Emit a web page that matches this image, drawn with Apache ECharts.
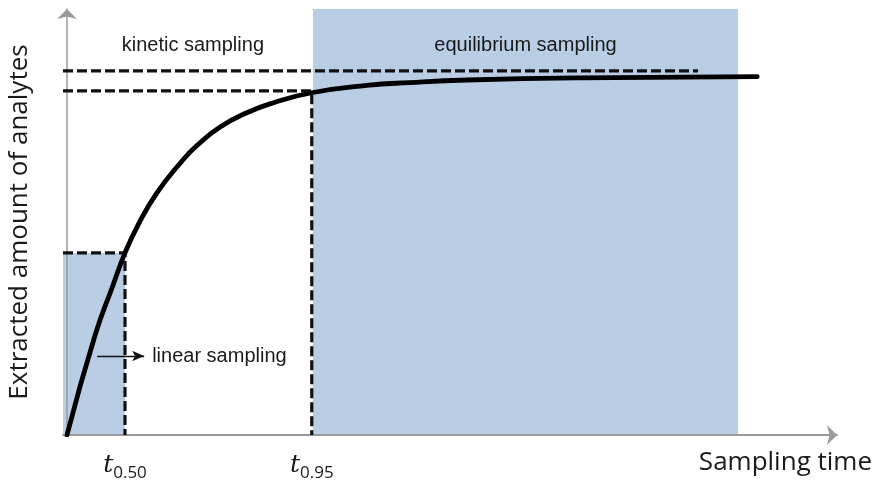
<!DOCTYPE html>
<html>
<head>
<meta charset="utf-8">
<script src="https://cdn.jsdelivr.net/npm/echarts@6/dist/echarts.min.js"></script>
<style>
html,body{margin:0;padding:0;background:#fff;}
#chart{width:879px;height:487px;}
</style>
</head>
<body>
<div id="chart"></div>
<script>
// Sampling time in units of t0.50, extracted amount relative to equilibrium
var curveTime   = [0, 0.48, 0.79, 1.0, 1.22, 1.55, 1.98, 2.24, 2.64, 3.10, 3.55, 4.22, 5.17, 5.91, 6.90, 8.84, 11.9];
var curveAmount = [0, 0.272, 0.41, 0.5, 0.575, 0.665, 0.752, 0.795, 0.846, 0.885, 0.912, 0.94, 0.96, 0.968, 0.975, 0.981, 0.984];

var halfLineTime   = [-0.069, 1.0, 1.0];
var halfLineAmount = [0.5, 0.5, 0];
var t95LineTime    = [-0.069, 4.22, 4.22];
var t95LineAmount  = [0.945, 0.945, 0];
var eqLineTime     = [-0.069, 10.88];
var eqLineAmount   = [1.0, 1.0];

var linearRegion      = [[-0.069, 0], [1.0, 0.5]];
var equilibriumRegion = [[4.24, 0], [11.57, 1.17]];

var tickValues = [1.0, 4.22];
var tickLabels = ['0.50', '0.95'];

var xMin = -0.069, xMax = 13.276, yMin = 0, yMax = 1.17;

function pairs(xs, ys) { return xs.map(function (x, i) { return [x, ys[i]]; }); }

var textColor = '#1a1a1a';
var dashStyle = { color: '#111', width: 3.2, type: [10, 4] };

var chart = echarts.init(document.getElementById('chart'), null, { renderer: 'canvas' });
chart.setOption({
  animation: false,
  backgroundColor: '#ffffff',
  grid: { left: 63, right: 42, top: 9, bottom: 52, containLabel: false, outerBoundsMode: 'none' },
  xAxis: {
    type: 'value', min: xMin, max: xMax, z: 2,
    name: 'Sampling time', nameLocation: 'end', nameGap: 35,
    nameTextStyle: { fontFamily: 'Open Sans', fontSize: 26, color: textColor, align: 'right', verticalAlign: 'top', padding: [15, 0, 0, 0] },
    axisLine: { show: true, onZero: true, symbol: ['none', 'arrow'], symbolSize: [15, 10], lineStyle: { color: '#9a9a9a', width: 2 } },
    axisTick: { show: false },
    splitLine: { show: false },
    axisLabel: {
      show: true, customValues: tickValues, margin: 18,
      formatter: function (v) {
        var best = 0;
        for (var i = 1; i < tickValues.length; i++) if (Math.abs(tickValues[i] - v) < Math.abs(tickValues[best] - v)) best = i;
        return '{t|t}{s|' + tickLabels[best] + '}';
      },
      rich: {
        t: { fontFamily: 'DejaVu Serif', fontStyle: 'italic', fontSize: 25, color: textColor, verticalAlign: 'top' },
        s: { fontFamily: 'Open Sans', fontSize: 17, color: textColor, verticalAlign: 'top', padding: [12, 0, 0, 0] }
      }
    }
  },
  yAxis: {
    type: 'value', min: yMin, max: yMax, z: 2,
    name: 'Extracted amount of analytes', nameLocation: 'middle', nameRotate: 90, nameGap: 30,
    nameTextStyle: { fontFamily: 'Open Sans', fontSize: 26, color: textColor },
    axisLine: { show: true, onZero: true, symbol: ['none', 'arrow'], symbolSize: [15, 10], lineStyle: { color: '#9a9a9a', width: 1.5 } },
    axisTick: { show: false },
    splitLine: { show: false },
    axisLabel: { show: false }
  },
  series: [
    {
      type: 'line', name: 'regions', data: [], z: 1, silent: true, clip: false,
      markArea: {
        silent: true,
        itemStyle: { color: '#b9cde5', opacity: 1 },
        data: [
          [{ coord: linearRegion[0] }, { coord: linearRegion[1] }],
          [{ coord: equilibriumRegion[0], name: 'equilibrium sampling',
             label: { show: true, position: 'insideTop', distance: 26, fontFamily: 'Liberation Sans', fontSize: 20, color: textColor } },
           { coord: equilibriumRegion[1] }]
        ],
        label: { show: false }
      },
      markPoint: {
        silent: true, symbol: 'circle', symbolSize: 0,
        data: [{ coord: [2.17, 1.07], name: 'kinetic sampling' }],
        label: { show: true, position: 'inside', formatter: '{b}', fontFamily: 'Liberation Sans', fontSize: 20, color: textColor }
      },
      markLine: {
        silent: true, symbol: ['none', 'arrow'], symbolSize: [8, 12],
        lineStyle: { color: '#111', width: 1.3, type: 'solid' },
        label: { show: true, position: 'end', distance: 8, formatter: 'linear sampling', fontFamily: 'Liberation Sans', fontSize: 20, color: textColor },
        data: [[{ coord: [0.52, 0.217] }, { coord: [1.33, 0.217] }]]
      }
    },
    { type: 'line', name: 'half', data: pairs(halfLineTime, halfLineAmount), symbol: 'none', z: 3, silent: true, lineStyle: dashStyle },
    { type: 'line', name: 't95', data: pairs(t95LineTime, t95LineAmount), symbol: 'none', z: 3, silent: true, lineStyle: dashStyle },
    { type: 'line', name: 'eq', data: pairs(eqLineTime, eqLineAmount), symbol: 'none', z: 3, silent: true, lineStyle: dashStyle },
    {
      type: 'line', name: 'curve', data: pairs(curveTime, curveAmount), symbol: 'none', z: 4, silent: true,
      smooth: 0.5,
      lineStyle: { color: '#000', width: 4.8, cap: 'round', join: 'round' }
    }
  ]
});
</script>
</body>
</html>
